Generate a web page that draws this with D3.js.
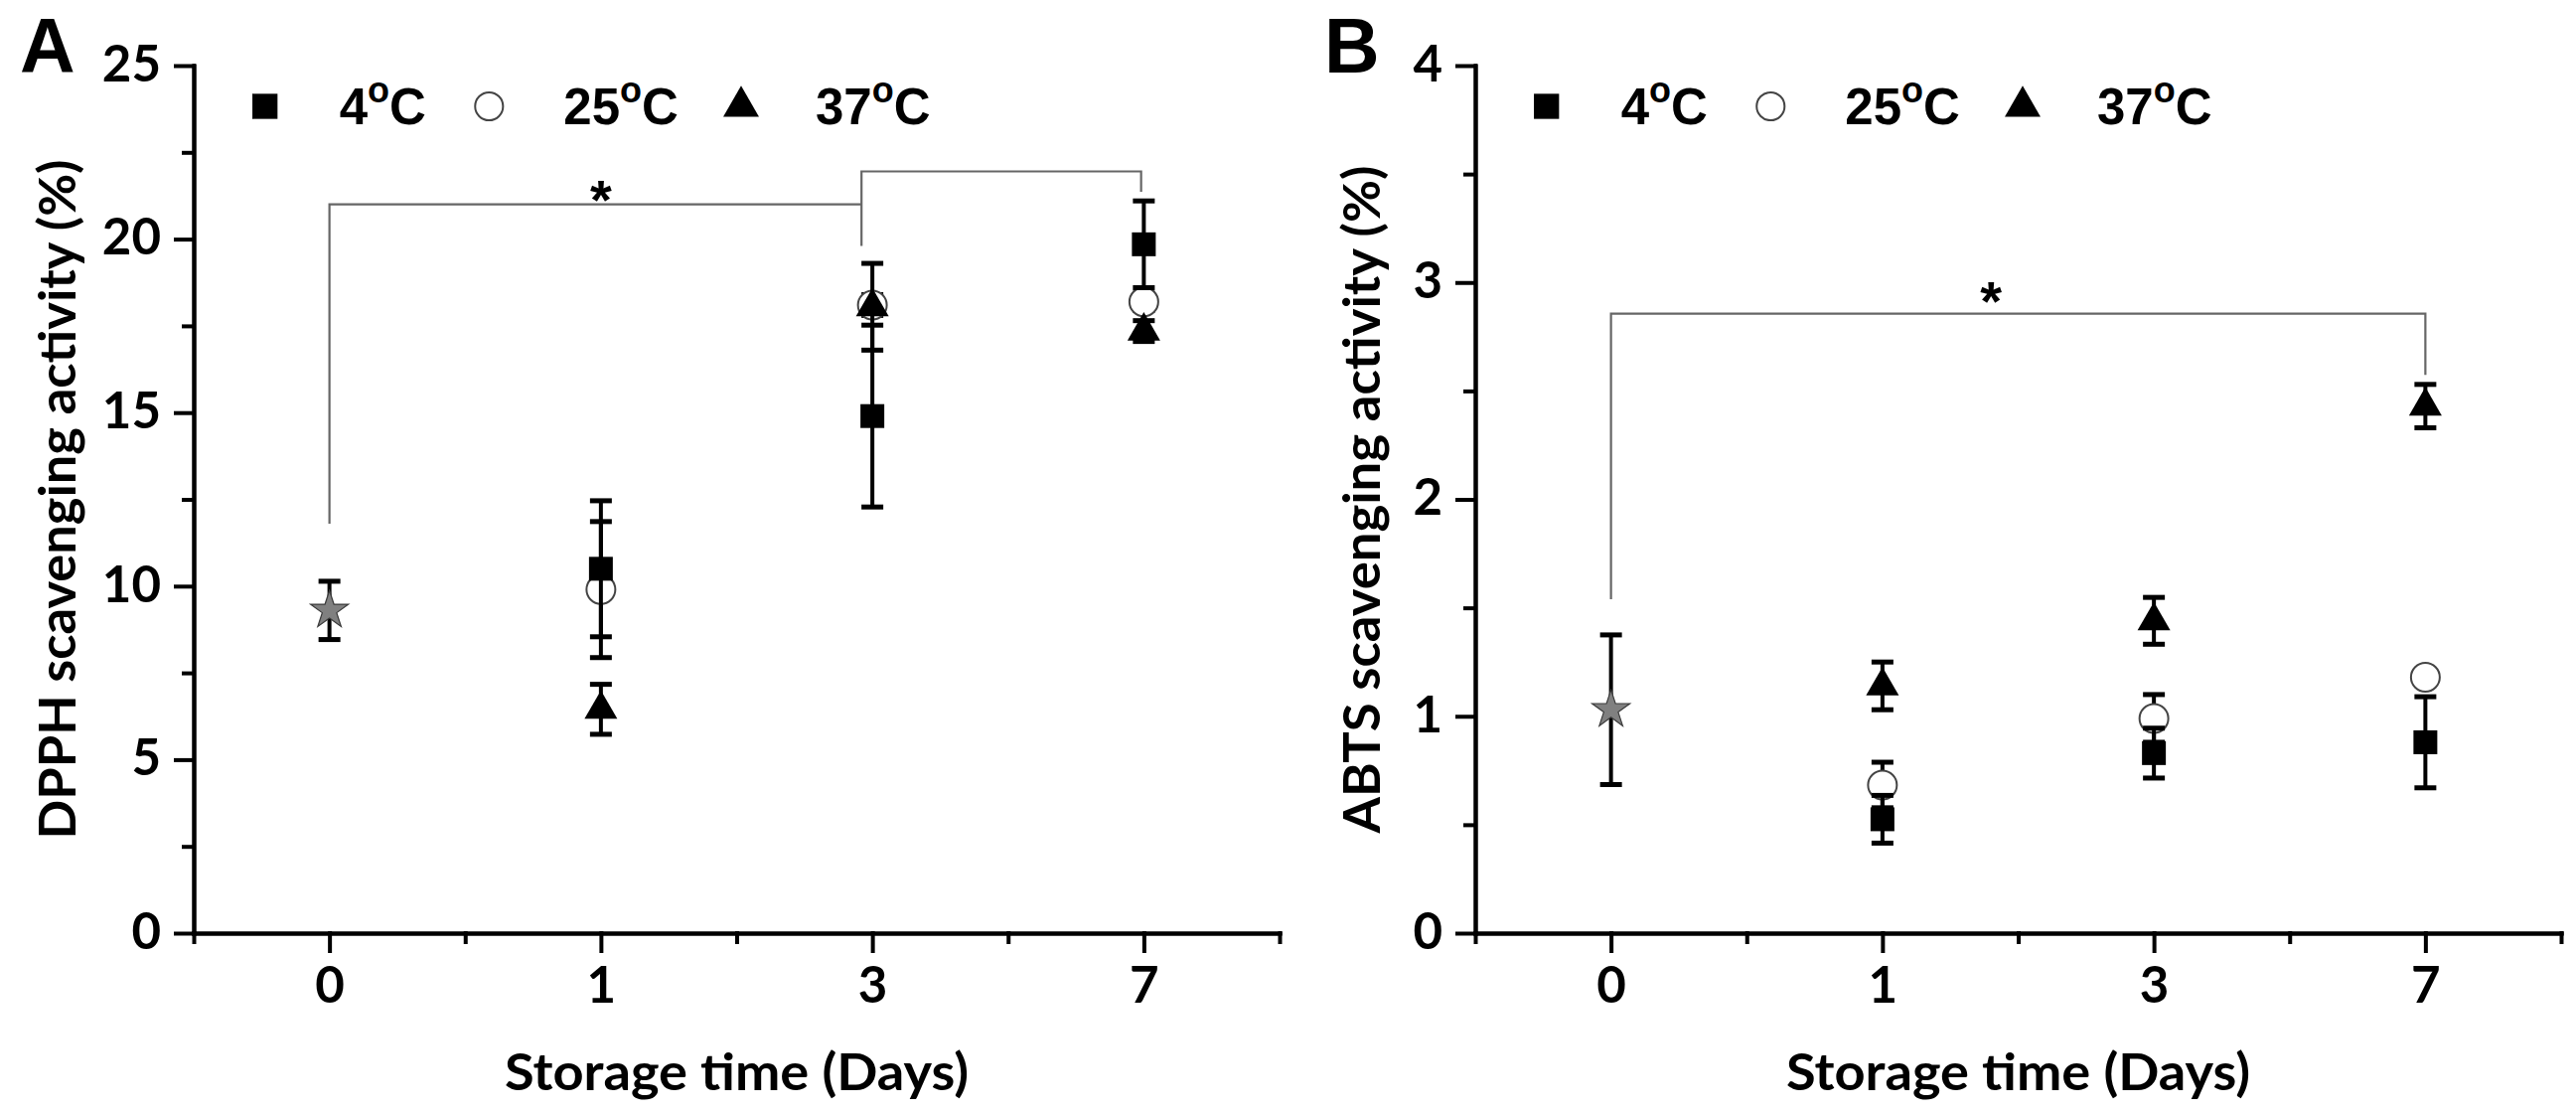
<!DOCTYPE html>
<html>
<head>
<meta charset="utf-8">
<script src="https://cdn.jsdelivr.net/npm/d3@7"></script>
<style>
  body { margin: 0; background: #fff; }
  .axis path, .axis line { stroke: #000; stroke-width: 4; stroke-linecap: square; }
  .tick text { font-family: Lato, "Open Sans", sans-serif; font-weight: 700; font-size: 51px; fill: #000; }
</style>
</head>
<body>
<script>
//storage days (x categories)
var days = ["0", "1", "3", "7"];
var legendLabels = ["4", "25", "37"];

//panel A: DPPH scavenging activity (%), day 0 control, then days 1, 3, 7
var dpphControl = [9.30],            dpphControlErr = [0.84];
var dpph4 = [10.50, 14.90, 19.85],   dpph4Err = [1.96, 2.62, 1.25];
var dpph25 = [9.90, 18.10, 18.19],   dpph25Err = [1.96, 0.30, 0.25];
var dpph37 = [6.45, 18.05, 17.35],   dpph37Err = [0.72, 1.25, 0.30];
var dpphTicks = [0, 5, 10, 15, 20, 25];
var dpphMinor = [2.5, 7.5, 12.5, 17.5, 22.5];

//panel B: ABTS scavenging activity (%)
var abtsControl = [1.03],            abtsControlErr = [0.345];
var abts4 = [0.525, 0.83, 0.88],     abts4Err = [0.11, 0.115, 0.21];
var abts25 = [0.683, 0.99, 1.18],    abts25Err = [0.105, 0.11, 0.02];
var abts37 = [1.14, 1.44, 2.43],     abts37Err = [0.11, 0.108, 0.10];
var abtsTicks = [0, 1, 2, 3, 4];
var abtsMinor = [0.5, 1.5, 2.5, 3.5];

//significance brackets: [day index, value] points, and star position
var dpphBrackets = [[[0, 11.8], [0, 21.0], [1.96, 21.0]],
                    [[1.96, 19.8], [1.96, 21.95], [2.99, 21.95], [2.99, 21.36]]];
var dpphStar = [1.0, 21.48];
var abtsBrackets = [[[0, 1.54], [0, 2.856], [3, 2.856], [3, 2.574]]];
var abtsStar = [1.4, 2.97];

var width = 2593, height = 1120;

var svg = d3.select("body")
    .append("svg")
    .attr("width", width)
    .attr("height", height);

drawPanel({
    letter: "A", letterX: 20, left: 195,
    yMax: 25, yTicks: dpphTicks, yMinor: dpphMinor,
    yTitle: "DPPH scavenging activity (%)", yTitleX: 76, yTitleLen: 684,
    control: dpphControl, controlErr: dpphControlErr,
    series: [dpph4, dpph25, dpph37], errs: [dpph4Err, dpph25Err, dpph37Err],
    brackets: dpphBrackets, star: dpphStar
});

drawPanel({
    letter: "B", letterX: 1333, left: 1485,
    yMax: 4, yTicks: abtsTicks, yMinor: abtsMinor,
    yTitle: "ABTS scavenging activity (%)", yTitleX: 1389, yTitleLen: 672,
    control: abtsControl, controlErr: abtsControlErr,
    series: [abts4, abts25, abts37], errs: [abts4Err, abts25Err, abts37Err],
    brackets: abtsBrackets, star: abtsStar
});

function drawPanel(p){

    var g = svg.append("g");

    var x = d3.scaleLinear()
        .domain([-0.5, days.length - 0.5])
        .range([p.left, p.left + 1093]);

    var y = d3.scaleLinear()
        .domain([0, p.yMax])
        .range([939, 66]);

    //minor ticks
    g.append("g")
        .attr("class", "axis")
        .attr("transform", "translate(" + p.left + ",0)")
        .call(d3.axisLeft(y).tickValues(p.yMinor).tickSize(10).tickSizeOuter(0).tickFormat(""));

    g.append("g")
        .attr("class", "axis")
        .attr("transform", "translate(0,939)")
        .call(d3.axisBottom(x).tickValues([-0.5, 0.5, 1.5, 2.5, 3.5]).tickSize(9).tickSizeOuter(0).tickFormat(""));

    //major axes
    g.append("g")
        .attr("class", "axis")
        .attr("transform", "translate(" + p.left + ",0)")
        .call(d3.axisLeft(y).tickValues(p.yTicks).tickSize(18).tickSizeOuter(0).tickPadding(15)
            .tickFormat(d3.format("d")))
        .selectAll(".tick text").attr("dy", "0.30em");

    g.append("g")
        .attr("class", "axis")
        .attr("transform", "translate(0,939)")
        .call(d3.axisBottom(x).tickValues(d3.range(days.length)).tickSize(18).tickSizeOuter(0).tickPadding(16)
            .tickFormat(function(i){ return days[i]; }));

    g.selectAll(".axis").attr("font-family", null).attr("font-size", null);

    //axis titles
    g.append("text")
        .attr("transform", "translate(" + p.yTitleX + "," + ((939 + 66) / 2) + ") rotate(-90)")
        .attr("text-anchor", "middle")
        .attr("textLength", p.yTitleLen)
        .attr("lengthAdjust", "spacingAndGlyphs")
        .style("font-family", "Lato, 'Open Sans', sans-serif")
        .style("font-weight", 700)
        .style("font-size", "51px")
        .text(p.yTitle);

    g.append("text")
        .attr("x", p.left + 1093 / 2)
        .attr("y", 1097)
        .attr("text-anchor", "middle")
        .attr("textLength", 467)
        .attr("lengthAdjust", "spacingAndGlyphs")
        .style("font-family", "Lato, 'Open Sans', sans-serif")
        .style("font-weight", 700)
        .style("font-size", "51px")
        .text("Storage time (Days)");

    //panel letter
    g.append("text")
        .attr("x", p.letterX)
        .attr("y", 73)
        .style("font-family", "'Liberation Sans', Arial, sans-serif")
        .style("font-weight", 700)
        .style("font-size", "77px")
        .text(p.letter);

    //significance brackets
    var line = d3.line()
        .x(function(d){ return x(d[0]); })
        .y(function(d){ return y(d[1]); });

    g.selectAll(".bracket")
        .data(p.brackets)
        .enter()
        .append("path")
        .attr("class", "bracket")
        .attr("d", line)
        .attr("fill", "none")
        .attr("stroke", "#666")
        .attr("stroke-width", 2.2);

    g.append("text")
        .attr("x", x(p.star[0]))
        .attr("y", y(p.star[1]) + 31)
        .attr("text-anchor", "middle")
        .style("font-family", "'Liberation Sans', Arial, sans-serif")
        .style("font-weight", 700)
        .style("font-size", "56px")
        .text("*");

    //marker definitions: 4C square, 25C circle, 37C triangle
    var symbols = [
        {type: d3.symbolSquare, size: 576, fill: "#000", stroke: "none", sw: 0},
        {type: d3.symbolCircle, size: 660, fill: "#fff", stroke: "#444", sw: 2},
        {type: d3.symbolTriangle, size: 472, fill: "#000", stroke: "none", sw: 0}
    ];

    //draw order: circles, squares, triangles, control star
    [1, 0, 2].forEach(function(s){
        var pts = p.series[s].map(function(v, i){
            return {i: i + 1, v: v, e: p.errs[s][i]};
        });
        drawErrors(g, pts, x, y);
        g.selectAll(".m" + s)
            .data(pts)
            .enter()
            .append("path")
            .attr("class", "m" + s)
            .attr("transform", function(d){ return "translate(" + x(d.i) + "," + y(d.v) + ")"; })
            .attr("d", d3.symbol().type(symbols[s].type).size(symbols[s].size))
            .attr("fill", symbols[s].fill)
            .attr("stroke", symbols[s].stroke)
            .attr("stroke-width", symbols[s].sw);
    });

    var ctrl = p.control.map(function(v, i){ return {i: i, v: v, e: p.controlErr[i]}; });
    drawErrors(g, ctrl, x, y);
    g.selectAll(".ctrl")
        .data(ctrl)
        .enter()
        .append("path")
        .attr("class", "ctrl")
        .attr("transform", function(d){ return "translate(" + x(d.i) + "," + y(d.v) + ")"; })
        .attr("d", d3.symbol().type(d3.symbolStar).size(450))
        .attr("fill", "#808080")
        .attr("stroke", "#3a3a3a")
        .attr("stroke-width", 1.2);

    //legend
    var legendX = [71.7, 297.3, 551];
    legendLabels.forEach(function(lab, s){
        g.append("path")
            .attr("transform", "translate(" + (p.left + legendX[s]) + ",107)")
            .attr("d", d3.symbol().type(symbols[s].type).size(s == 1 ? 620 : (s == 0 ? 640 : 560)))
            .attr("fill", symbols[s].fill)
            .attr("stroke", symbols[s].stroke)
            .attr("stroke-width", symbols[s].sw);

        var t = g.append("text")
            .attr("x", p.left + legendX[s] + 75)
            .attr("y", 125)
            .style("font-family", "'Liberation Sans', Arial, sans-serif")
            .style("font-weight", 700)
            .style("font-size", "51px");
        t.append("tspan").text(lab);
        t.append("tspan").attr("dy", -22).style("font-size", "36px").text("o");
        t.append("tspan").attr("dy", 22).text("C");
    });
}

function drawErrors(g, pts, x, y){
    var bars = g.append("g")
        .attr("stroke", "#000")
        .attr("stroke-width", 4);

    bars.selectAll(".ebar")
        .data(pts)
        .enter()
        .append("line")
        .attr("x1", function(d){ return x(d.i); })
        .attr("x2", function(d){ return x(d.i); })
        .attr("y1", function(d){ return y(d.v - d.e); })
        .attr("y2", function(d){ return y(d.v + d.e); });

    [-1, 1].forEach(function(sign){
        bars.selectAll(".cap" + sign)
            .data(pts)
            .enter()
            .append("line")
            .attr("stroke-width", 5)
            .attr("x1", function(d){ return x(d.i) - 11; })
            .attr("x2", function(d){ return x(d.i) + 11; })
            .attr("y1", function(d){ return y(d.v + sign * d.e); })
            .attr("y2", function(d){ return y(d.v + sign * d.e); });
    });
}
</script>
</body>
</html>
